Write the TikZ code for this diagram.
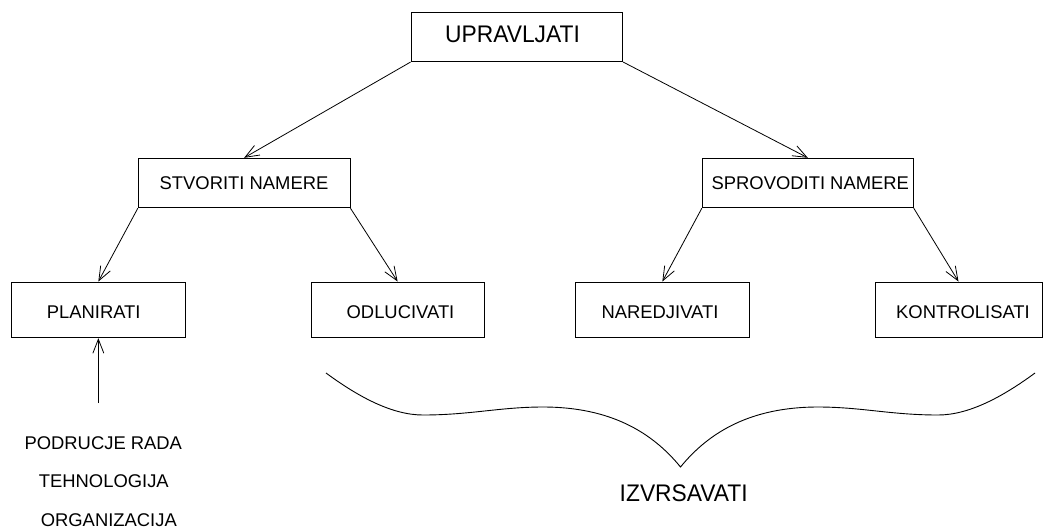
\documentclass[tikz,border=0pt]{standalone}
\usepackage{fontspec}
\setmainfont{Liberation Sans}
\usetikzlibrary{arrows.meta}
\begin{document}
\begin{tikzpicture}[x=1pt,y=-1pt,
  box/.style={draw, line width=0.9pt, inner sep=0pt, minimum height=49.5pt},
  leaf/.style={draw, line width=0.9pt, inner sep=0pt, minimum height=55.7pt},
  big/.style={inner sep=0pt, font=\fontsize{24}{28}\selectfont, xscale=0.95},
  small/.style={inner sep=0pt, font=\fontsize{18.4}{22}\selectfont},
  link/.style={line width=0.8pt, -{Straight Barb[length=14pt,width=11pt]}},
  curly/.style={line width=0.9pt}]
\useasboundingbox (0,0) rectangle (1043,528);

% top level
\node[box, minimum width=211.7pt] (upr) at (516.85,36.85) {};
\node[big] (uprt) at (512.5,34.7) {UPRAVLJATI};

% second level
\node[box, minimum width=211.7pt] (stv) at (244.15,183) {};
\node[small] (stvt) at (244,182.7) {STVORITI NAMERE};
\node[box, minimum width=211pt] (spr) at (807.8,183) {};
\node[small] (sprt) at (810.3,182.7) {SPROVODITI NAMERE};

% third level
\node[leaf, minimum width=173.3pt] (plan) at (98.35,309.85) {};
\node[small] (plant) at (93.7,312.3) {PLANIRATI};
\node[leaf, minimum width=173.3pt] (odl) at (397.65,309.85) {};
\node[small] (odlt) at (400.5,312.3) {ODLUCIVATI};
\node[leaf, minimum width=173.3pt] (nar) at (662.35,309.85) {};
\node[small] (nart) at (660,312.3) {NAREDJIVATI};
\node[leaf, minimum width=167pt] (kon) at (958.5,309.85) {};
\node[small] (kont) at (963,312.3) {KONTROLISATI};

% connectors
\draw[link] (upr.south west) -- (stv.north);
\draw[link] (upr.south east) -- (spr.north);
\draw[link] (stv.south west) -- (plan.north);
\draw[link] (stv.south east) -- (odl.north);
\draw[link] (spr.south west) -- (nar.north);
\draw[link] (spr.south east) -- (kon.north);

% inputs to planning
\coordinate (inp) at (98.35,403);
\draw[link] (inp) -- (plan.south);
\node[small] (pr) at (103.3,443) {PODRUCJE RADA};
\node[small] (teh) at (103.8,480.7) {TEHNOLOGIJA};
\node[small] (org) at (108.8,519.7) {ORGANIZACIJA};

% brace under the executive tasks
\coordinate (bl) at (326,373);
\coordinate (bt) at (680.5,467);
\coordinate (br) at (1035,373);
\draw[curly] (bl)
  .. controls (360,398) and (393,415) .. (423,415)
  .. controls (470,415) and (500,407) .. (543,407)
  .. controls (610,407) and (652,432) .. (bt)
  .. controls (709,432) and (751,407) .. (818,407)
  .. controls (861,407) and (891,415) .. (938,415)
  .. controls (968,415) and (1001,398) .. (br);
\node[big] (izv) at (683.7,493.7) {IZVRSAVATI};
\end{tikzpicture}
\end{document}
